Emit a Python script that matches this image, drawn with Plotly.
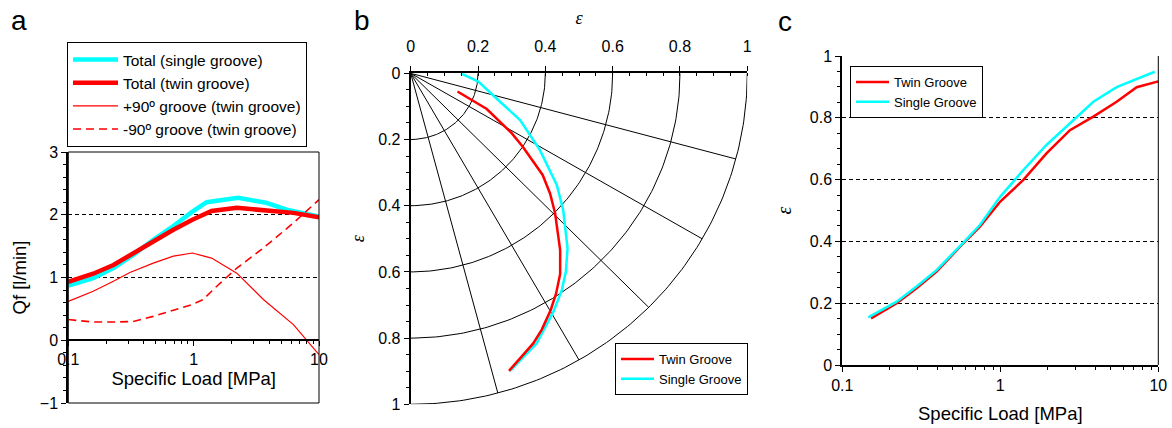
import numpy as np
import plotly.graph_objects as go

W, H = 1172, 428

# ---------------- panel a : flow rate vs specific load ----------------
load_single_total = [0.1, 0.158, 0.229, 0.33, 0.476, 0.689, 0.977, 1.27, 2.27, 3.82, 5.52, 10]
qf_single_total = [0.87, 0.99, 1.15, 1.36, 1.60, 1.82, 2.05, 2.20, 2.27, 2.19, 2.08, 1.97]

load_twin_total = [0.1, 0.158, 0.229, 0.33, 0.476, 0.689, 0.977, 1.39, 2.21, 3.6, 6.25, 10]
qf_twin_total = [0.93, 1.06, 1.20, 1.39, 1.57, 1.76, 1.92, 2.06, 2.11, 2.08, 2.03, 1.96]

load_plus90 = [0.1, 0.158, 0.229, 0.31, 0.476, 0.689, 0.977, 1.39, 2.21, 3.6, 6.25, 7.94, 10]
qf_plus90 = [0.62, 0.78, 0.94, 1.08, 1.23, 1.34, 1.39, 1.31, 1.07, 0.65, 0.25, 0.0, -0.23]

load_minus90 = [0.1, 0.158, 0.229, 0.33, 0.476, 0.689, 0.977, 1.19, 1.53, 2.21, 3.6, 6.25, 10]
qf_minus90 = [0.33, 0.29, 0.29, 0.30, 0.38, 0.48, 0.57, 0.65, 0.86, 1.15, 1.47, 1.87, 2.24]

# ---------------- panel b : shaft centre locus (eccentricity plane) ----------------
locus_twin_x = [0.139, 0.226, 0.300, 0.333, 0.392, 0.414, 0.429, 0.444, 0.444, 0.432, 0.416, 0.389, 0.364, 0.292]
locus_twin_y = [0.055, 0.108, 0.181, 0.222, 0.307, 0.363, 0.423, 0.534, 0.606, 0.665, 0.715, 0.775, 0.816, 0.899]

locus_single_x = [0.149, 0.201, 0.255, 0.325, 0.384, 0.434, 0.453, 0.466, 0.461, 0.449, 0.424, 0.374, 0.295]
locus_single_y = [0.000, 0.025, 0.076, 0.141, 0.232, 0.337, 0.413, 0.529, 0.599, 0.655, 0.720, 0.816, 0.899]

grid_radii = [0.2, 0.4, 0.6, 0.8, 1.0]
spoke_angles_deg = [15, 30, 45, 60, 75]

# ---------------- panel c : eccentricity vs specific load ----------------
load_twin_c = [0.152, 0.221, 0.295, 0.395, 0.583, 0.743, 1.0, 1.40, 1.96, 2.76, 3.88, 5.45, 7.3, 10]
ecc_twin_c = [0.151, 0.200, 0.248, 0.302, 0.394, 0.448, 0.529, 0.599, 0.685, 0.760, 0.804, 0.852, 0.899, 0.918]

load_single_c = [0.146, 0.221, 0.295, 0.395, 0.583, 0.743, 1.0, 1.40, 1.96, 2.76, 3.88, 5.45, 9.5]
ecc_single_c = [0.154, 0.205, 0.254, 0.307, 0.396, 0.453, 0.545, 0.631, 0.712, 0.782, 0.852, 0.899, 0.949]

log_ticks = [0.1, 1, 10]
log_tick_text = ["0.1", "1", "10"]

RED = "#FF0000"
CYAN = "#00FFFF"
FONT = "Liberation Sans"
SERIF = "Liberation Serif"


def xdom(p0, p1):
    return [p0 / W, p1 / W]


def ydom(top, bottom):
    return [(H - bottom) / H, (H - top) / H]


fig = go.Figure()

# panel a traces
fig.add_trace(go.Scatter(x=load_single_total, y=qf_single_total, mode="lines",
                         line=dict(color=CYAN, width=4.5), name="Total (single groove)",
                         xaxis="x", yaxis="y", legend="legend", legendgroup="a1"))
fig.add_trace(go.Scatter(x=load_twin_total, y=qf_twin_total, mode="lines",
                         line=dict(color=RED, width=4.5), name="Total (twin groove)",
                         xaxis="x", yaxis="y", legend="legend", legendgroup="a2"))
fig.add_trace(go.Scatter(x=load_plus90, y=qf_plus90, mode="lines",
                         line=dict(color=RED, width=1.2), name="+90º groove (twin groove)",
                         xaxis="x", yaxis="y", legend="legend", legendgroup="a3"))
fig.add_trace(go.Scatter(x=load_minus90, y=qf_minus90, mode="lines",
                         line=dict(color=RED, width=1.6, dash="8px,5px"),
                         name="-90º groove (twin groove)",
                         xaxis="x", yaxis="y", legend="legend", legendgroup="a4"))

# panel b polar-style grid: arcs of constant eccentricity and radial spokes
theta = np.linspace(0, np.pi / 2, 120)
for r in grid_radii:
    fig.add_trace(go.Scatter(x=r * np.cos(theta), y=r * np.sin(theta), mode="lines",
                             line=dict(color="black", width=1), showlegend=False,
                             hoverinfo="skip", xaxis="x2", yaxis="y2"))
for a in spoke_angles_deg:
    t = np.deg2rad(a)
    fig.add_trace(go.Scatter(x=[0, np.cos(t)], y=[0, np.sin(t)], mode="lines",
                             line=dict(color="black", width=1), showlegend=False,
                             hoverinfo="skip", xaxis="x2", yaxis="y2"))

fig.add_trace(go.Scatter(x=locus_single_x, y=locus_single_y, mode="lines",
                         line=dict(color=CYAN, width=2.5), name="Single Groove",
                         xaxis="x2", yaxis="y2", legend="legend2", legendrank=2))
fig.add_trace(go.Scatter(x=locus_twin_x, y=locus_twin_y, mode="lines",
                         line=dict(color=RED, width=2.5), name="Twin Groove",
                         xaxis="x2", yaxis="y2", legend="legend2", legendrank=1))

# panel c traces
fig.add_trace(go.Scatter(x=load_twin_c, y=ecc_twin_c, mode="lines",
                         line=dict(color=RED, width=2.5), name="Twin Groove",
                         xaxis="x3", yaxis="y3", legend="legend3"))
fig.add_trace(go.Scatter(x=load_single_c, y=ecc_single_c, mode="lines",
                         line=dict(color=CYAN, width=2.5), name="Single Groove",
                         xaxis="x3", yaxis="y3", legend="legend3"))

tick_font = dict(family=FONT, size=16, color="black")
title_font = dict(family=FONT, size=18.5, color="black")
eps_font = dict(family=SERIF, size=18, color="black")

ya_dom = ydom(152, 403)
yc_dom = ydom(56, 365)
yb_dom = ydom(73.3, 404.3)

# x-axis of panel a crosses at Qf = 0
ya_min, ya_max = -1, 3
xa_position = ya_dom[0] + (0 - ya_min) / (ya_max - ya_min) * (ya_dom[1] - ya_dom[0])

legend_common = dict(bgcolor="white", bordercolor="black", borderwidth=1,
                     xanchor="left", yanchor="top", orientation="v")

log_minor = dict(dtick="D1", ticks="outside", ticklen=3, tickcolor="black",
                 tickwidth=1, showgrid=False)

fig.update_layout(
    width=W, height=H,
    margin=dict(l=0, r=0, t=0, b=0, autoexpand=False),
    paper_bgcolor="white", plot_bgcolor="white",
    font=dict(family=FONT, color="black"),
    xaxis=dict(domain=xdom(68.3, 319), type="log", range=[-1, 1], anchor="free",
               position=xa_position, tickvals=log_ticks, ticktext=log_tick_text,
               ticks="outside", ticklen=5, tickcolor="black", tickfont=tick_font,
               showline=True, linecolor="black", linewidth=1.5, showgrid=False,
               zeroline=False, automargin=False, minor=log_minor,
               title=dict(text="Specific Load [MPa]", font=title_font, standoff=4)),
    yaxis=dict(domain=ya_dom, range=[ya_min, ya_max], anchor="x", dtick=1,
               ticks="outside", ticklen=5, tickcolor="black", tickfont=tick_font,
               showline=True, linecolor="black", linewidth=2,
               showgrid=True, gridcolor="black", gridwidth=1, griddash="4px,3px",
               zeroline=False, automargin=False,
               minor=dict(dtick=0.2, ticks="outside", ticklen=3, tickcolor="black",
                          showgrid=False),
               title=dict(text="Qf [l/min]", font=title_font, standoff=8)),
    xaxis2=dict(domain=xdom(410.7, 747.3), range=[0, 1], anchor="y2", side="top",
                dtick=0.2, ticks="outside", ticklen=5, tickcolor="black",
                tickfont=tick_font, ticklabelstandoff=8,
                showline=True, linecolor="black", linewidth=2, showgrid=False,
                zeroline=False, automargin=False,
                minor=dict(dtick=0.05, ticks="inside", ticklen=3, tickcolor="black",
                           showgrid=False),
                title=dict(text="<i>ε</i>", font=eps_font, standoff=9)),
    yaxis2=dict(domain=yb_dom, range=[1, 0], anchor="x2", dtick=0.2,
                ticks="outside", ticklen=5, tickcolor="black", tickfont=tick_font,
                showline=True, linecolor="black", linewidth=2, showgrid=False,
                zeroline=False, automargin=False,
                minor=dict(dtick=0.05, ticks="outside", ticklen=3, tickcolor="black",
                           showgrid=False),
                title=dict(text="<i>ε</i>", font=eps_font, standoff=9)),
    xaxis3=dict(domain=xdom(842.3, 1158.3), type="log", range=[-1, 1], anchor="y3",
                tickvals=log_ticks, ticktext=log_tick_text,
                ticks="outside", ticklen=5, tickcolor="black", tickfont=tick_font,
                showline=True, linecolor="black", linewidth=2, showgrid=False,
                zeroline=False, automargin=False, minor=log_minor,
                title=dict(text="Specific Load [MPa]", font=title_font, standoff=14)),
    yaxis3=dict(domain=yc_dom, range=[0, 1], anchor="x3", dtick=0.2,
                ticks="outside", ticklen=5, tickcolor="black", tickfont=tick_font,
                showline=True, linecolor="black", linewidth=2,
                showgrid=True, gridcolor="black", gridwidth=1, griddash="4px,3px",
                zeroline=False, automargin=False,
                minor=dict(dtick=0.05, ticks="outside", ticklen=3, tickcolor="black",
                           showgrid=False),
                title=dict(text="<i>ε</i>", font=dict(family=SERIF, size=20), standoff=13)),
    legend=dict(x=67 / W, y=1 - 42 / H, font=dict(family=FONT, size=15.5),
                itemwidth=45, tracegroupgap=0, **legend_common),
    legend2=dict(x=615 / W, y=1 - 343 / H, font=dict(family=FONT, size=13),
                 itemwidth=33, **legend_common),
    legend3=dict(x=850 / W, y=1 - 66 / H, font=dict(family=FONT, size=13),
                 itemwidth=33, **legend_common),
    showlegend=True,
)

# frame around panel a and right border of panel c
fig.add_shape(type="rect", xref="x domain", yref="y domain", x0=0, x1=1, y0=0, y1=1,
              line=dict(color="black", width=1))
fig.add_shape(type="line", xref="x3 domain", yref="y3 domain", x0=1, x1=1, y0=0, y1=1,
              line=dict(color="black", width=1))

# panel letters
for letter, px, py in [("a", 19, 20), ("b", 362, 20), ("c", 785, 21)]:
    fig.add_annotation(text=letter, x=px / W, y=1 - py / H, xref="paper", yref="paper",
                       xanchor="center", yanchor="middle", showarrow=False,
                       font=dict(family=FONT, size=28, color="black"))

fig.write_html("out.html")
